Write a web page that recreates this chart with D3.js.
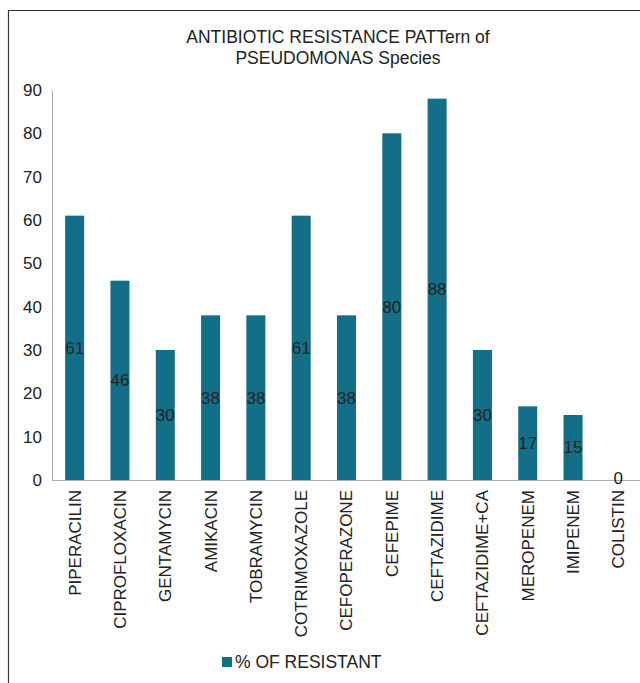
<!DOCTYPE html>
<html>
<head>
<meta charset="utf-8">
<script src="https://cdn.jsdelivr.net/npm/d3@7"></script>
<style>
  body { margin: 0; background: #fff; }
  text { font-family: "Liberation Sans", Arial, sans-serif; }
</style>
</head>
<body>
<svg id="chart"></svg>
<script>
const drugs = ["PIPERACILIN", "CIPROFLOXACIN", "GENTAMYCIN", "AMIKACIN", "TOBRAMYCIN",
  "COTRIMOXAZOLE", "CEFOPERAZONE", "CEFEPIME", "CEFTAZIDIME", "CEFTAZIDIME+CA",
  "MEROPENEM", "IMIPENEM", "COLISTIN"];
const resistant = [61, 46, 30, 38, 38, 61, 38, 80, 88, 30, 17, 15, 0];
const yTicks = [0, 10, 20, 30, 40, 50, 60, 70, 80, 90];
const titleLines = ["ANTIBIOTIC RESISTANCE PATTern of", "PSEUDOMONAS Species"];
const seriesName = "% OF RESISTANT";

const width = 640, height = 683;
const barColor = "#136f87";
const fs = 17;

const svg = d3.select("#chart")
    .attr("width", width)
    .attr("height", height);

// outer frame (only left and top edges show)
svg.append("line").attr("x1", 8.5).attr("x2", 8.5).attr("y1", 10).attr("y2", height)
    .attr("stroke", "#333").attr("stroke-width", 1.2);
svg.append("line").attr("x1", 8).attr("x2", width).attr("y1", 10.5).attr("y2", 10.5)
    .attr("stroke", "#333").attr("stroke-width", 1.2);

// title
svg.append("g").selectAll("text")
    .data(titleLines)
    .join("text")
    .attr("x", 338)
    .attr("y", (d, i) => 43 + i * 21)
    .attr("text-anchor", "middle")
    .attr("font-size", 17.5)
    .attr("fill", "#222")
    .text(d => d);

const x = d3.scaleBand()
    .domain(drugs)
    .range([52, 641])
    .paddingInner(0.58)
    .paddingOuter(0.29);

const y = d3.scaleLinear()
    .domain([0, 90])
    .range([480, 90]);

// y axis
const yAxis = svg.append("g")
    .attr("transform", "translate(52,0)")
    .call(d3.axisLeft(y).tickValues(yTicks).tickSize(0).tickPadding(10));
yAxis.select(".domain").attr("stroke", "#aaa");
yAxis.selectAll("text").attr("font-size", fs).attr("fill", "#222")
    .attr("font-family", "Liberation Sans, Arial, sans-serif");

// bars
svg.append("g").selectAll("rect")
    .data(resistant)
    .join("rect")
    .attr("x", (d, i) => x(drugs[i]))
    .attr("width", x.bandwidth())
    .attr("y", d => y(d))
    .attr("height", d => y(0) - y(d))
    .attr("fill", barColor);

// x axis
const xAxis = svg.append("g")
    .attr("transform", "translate(0,480)")
    .call(d3.axisBottom(x).tickSize(0).tickPadding(0));
xAxis.select(".domain").attr("stroke", "#aaa");
xAxis.selectAll("text")
    .attr("font-size", fs)
    .attr("fill", "#222")
    .attr("font-family", "Liberation Sans, Arial, sans-serif")
    .attr("transform", "rotate(-90)")
    .attr("text-anchor", "end")
    .attr("x", -10)
    .attr("y", 0)
    .attr("dy", "0.35em");

// value labels
svg.append("g").selectAll("text")
    .data(resistant)
    .join("text")
    .attr("x", (d, i) => x(drugs[i]) + x.bandwidth() / 2)
    .attr("y", d => (y(d) + y(0)) / 2 - (d === 0 ? 2 : 0))
    .attr("dy", "0.35em")
    .attr("text-anchor", "middle")
    .attr("font-size", fs)
    .attr("fill", "#222")
    .text(d => d);

// legend
const legend = svg.append("g").attr("transform", "translate(222,657)");
legend.append("rect").attr("width", 10).attr("height", 10).attr("fill", barColor);
legend.append("text").attr("x", 13).attr("y", 5).attr("dy", "0.35em")
    .attr("font-size", 17.5).attr("fill", "#222").text(seriesName);
</script>
</body>
</html>
